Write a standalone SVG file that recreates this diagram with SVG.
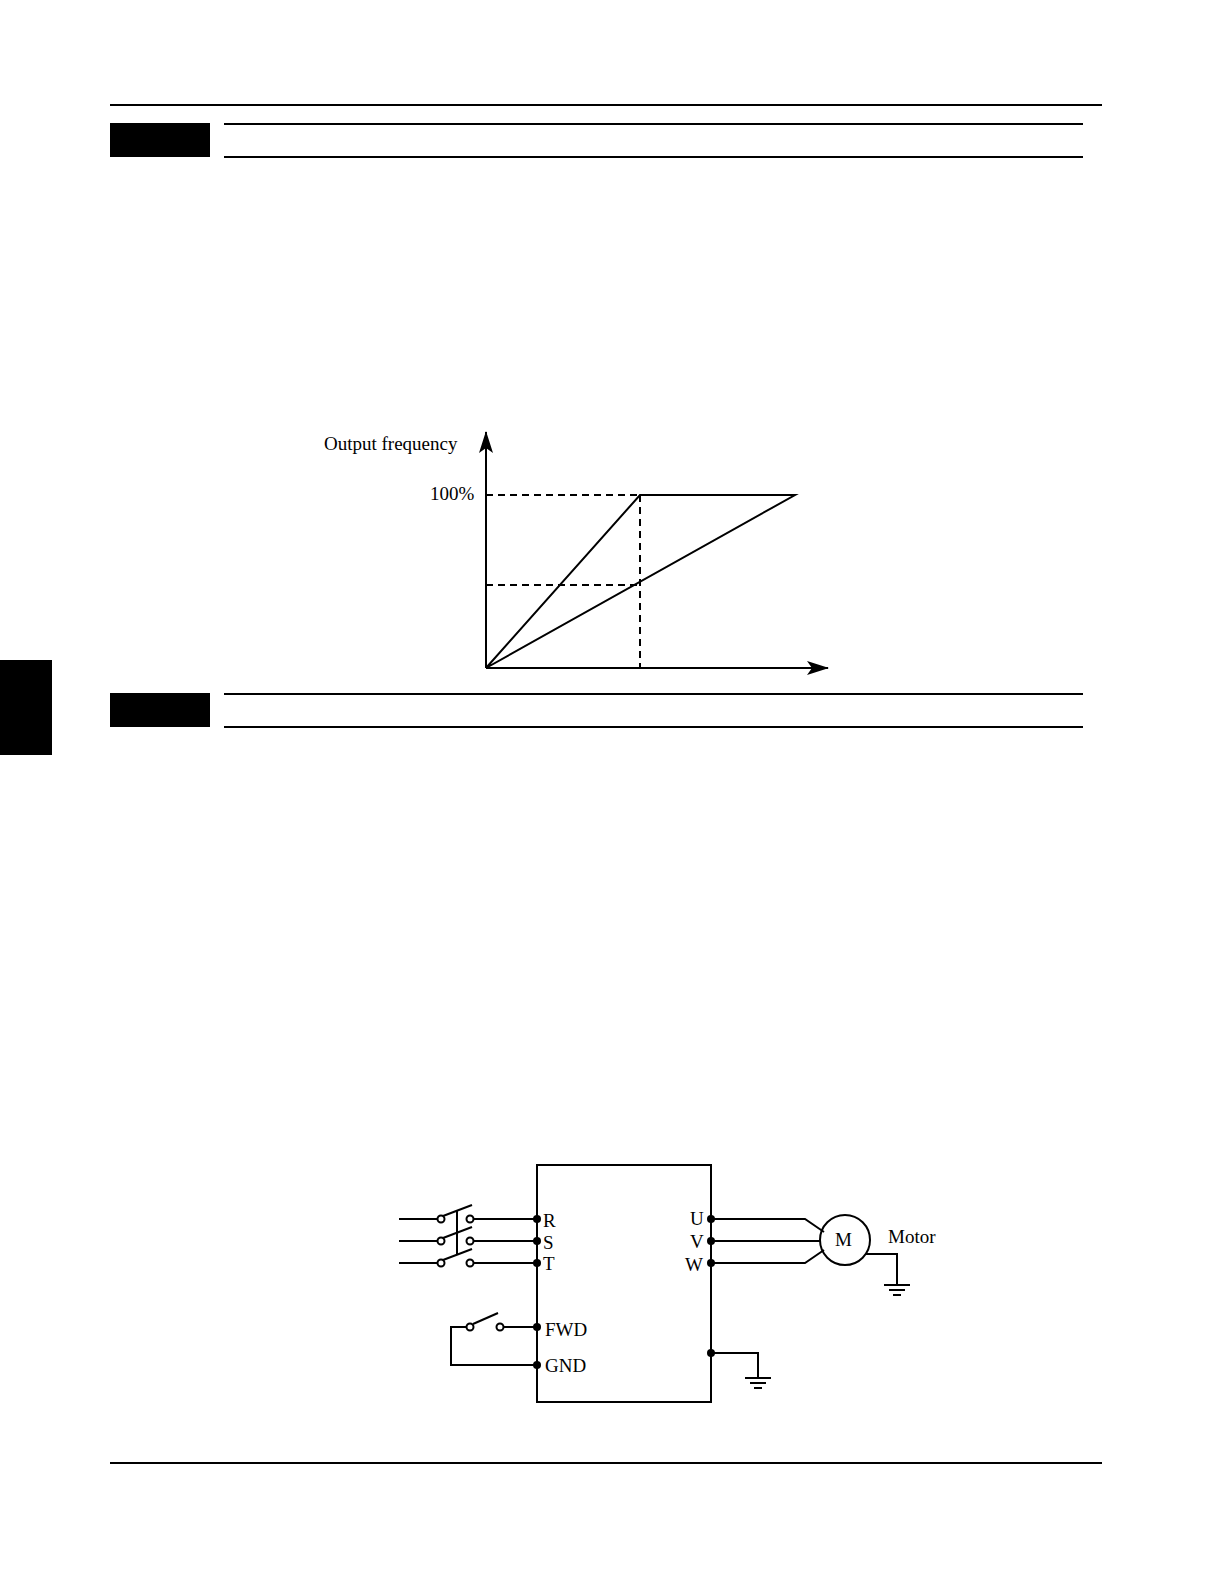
<svg xmlns="http://www.w3.org/2000/svg" width="1224" height="1584" viewBox="0 0 1224 1584">
<style>
.l{stroke:#000;stroke-width:2;fill:none}
.d{stroke:#000;stroke-width:2;fill:none;stroke-dasharray:7,5}
.t{font-family:"Liberation Serif",serif;font-size:19px;fill:#000}
.o{fill:#fff;stroke:#000;stroke-width:2}
</style>
<defs>
<marker id="ar" markerWidth="22" markerHeight="14" refX="21" refY="7" orient="auto" markerUnits="userSpaceOnUse"><path d="M0,0 L22,7 L0,14 L5,7 Z" fill="#000"/></marker>
<g id="gnd"><line class="l" x1="-13" y1="0" x2="13" y2="0"/><line class="l" x1="-8" y1="5" x2="8" y2="5"/><line class="l" x1="-4" y1="10" x2="4" y2="10"/></g>
</defs>
<g id="page">
<line class="l" x1="110" y1="105" x2="1102" y2="105" stroke-width="1.5"/>
<rect x="110" y="123" width="100" height="34" fill="#000"/>
<line class="l" x1="224" y1="124" x2="1083" y2="124" stroke-width="1.5"/>
<line class="l" x1="224" y1="157" x2="1083" y2="157" stroke-width="1"/>
<rect x="110" y="693" width="100" height="34" fill="#000"/>
<line class="l" x1="224" y1="694" x2="1083" y2="694" stroke-width="1.5"/>
<line class="l" x1="224" y1="727" x2="1083" y2="727" stroke-width="1"/>
<rect x="0" y="660" width="52" height="95" fill="#000"/>
<line class="l" x1="110" y1="1463" x2="1102" y2="1463" stroke-width="1.5"/>
</g>
<g id="graph">
<line class="l" x1="486" y1="668" x2="486" y2="432" marker-end="url(#ar)"/>
<line class="l" x1="486" y1="668" x2="828" y2="668" marker-end="url(#ar)"/>
<text class="t" x="324" y="450">Output frequency</text>
<text class="t" x="430" y="500">100%</text>
<line class="d" x1="486" y1="495" x2="640" y2="495"/>
<line class="d" x1="486" y1="585" x2="640" y2="585"/>
<line class="d" x1="640" y1="495" x2="640" y2="668"/>
<polyline class="l" points="486,668 640,495 795,495 486,668"/>
</g>
<g id="inverter">
<rect class="l" x="537" y="1165" width="174" height="237"/>
<text class="t" x="543" y="1227">R</text>
<text class="t" x="543" y="1249">S</text>
<text class="t" x="543" y="1270">T</text>
<text class="t" x="545" y="1336">FWD</text>
<text class="t" x="545" y="1372">GND</text>
<text class="t" x="690" y="1225">U</text>
<text class="t" x="690" y="1248">V</text>
<text class="t" x="685" y="1271">W</text>
</g>
<g id="motor">
<circle class="l" cx="845" cy="1240" r="25"/>
<text class="t" x="835" y="1246">M</text>
<text class="t" x="888" y="1243">Motor</text>
</g>
<g id="connectors">
<g id="breaker">
<line class="l" x1="399" y1="1219" x2="438" y2="1219"/>
<line class="l" x1="399" y1="1241" x2="438" y2="1241"/>
<line class="l" x1="399" y1="1263" x2="438" y2="1263"/>
<line class="l" x1="473" y1="1219" x2="537" y2="1219"/>
<line class="l" x1="473" y1="1241" x2="537" y2="1241"/>
<line class="l" x1="473" y1="1263" x2="537" y2="1263"/>
<line class="l" x1="443" y1="1216" x2="472" y2="1205"/>
<line class="l" x1="443" y1="1238" x2="472" y2="1227"/>
<line class="l" x1="443" y1="1260" x2="472" y2="1249"/>
<line class="l" x1="457" y1="1210" x2="457" y2="1254"/>
<circle class="o" cx="441" cy="1219" r="3.5"/><circle class="o" cx="470" cy="1219" r="3.5"/>
<circle class="o" cx="441" cy="1241" r="3.5"/><circle class="o" cx="470" cy="1241" r="3.5"/>
<circle class="o" cx="441" cy="1263" r="3.5"/><circle class="o" cx="470" cy="1263" r="3.5"/>
</g>
<polyline class="l" points="467,1327 451,1327 451,1365 537,1365"/>
<line class="l" x1="503" y1="1327" x2="537" y2="1327"/>
<line class="l" x1="473" y1="1324" x2="498" y2="1313"/>
<circle class="o" cx="470" cy="1327" r="3.5"/><circle class="o" cx="500" cy="1327" r="3.5"/>
<polyline class="l" points="711,1219 805,1219 824,1232"/>
<line class="l" x1="711" y1="1241" x2="820" y2="1241"/>
<polyline class="l" points="711,1263 805,1263 824,1250"/>
<polyline class="l" points="866,1254 897,1254 897,1285"/>
<use href="#gnd" x="897" y="1285"/>
<polyline class="l" points="711,1353 758,1353 758,1378"/>
<use href="#gnd" x="758" y="1378"/>
<g fill="#000">
<circle cx="537" cy="1219" r="4"/><circle cx="537" cy="1241" r="4"/><circle cx="537" cy="1263" r="4"/>
<circle cx="537" cy="1327" r="4"/><circle cx="537" cy="1365" r="4"/>
<circle cx="711" cy="1219" r="4"/><circle cx="711" cy="1241" r="4"/><circle cx="711" cy="1263" r="4"/>
<circle cx="711" cy="1353" r="4"/>
</g>
</g>
</svg>
